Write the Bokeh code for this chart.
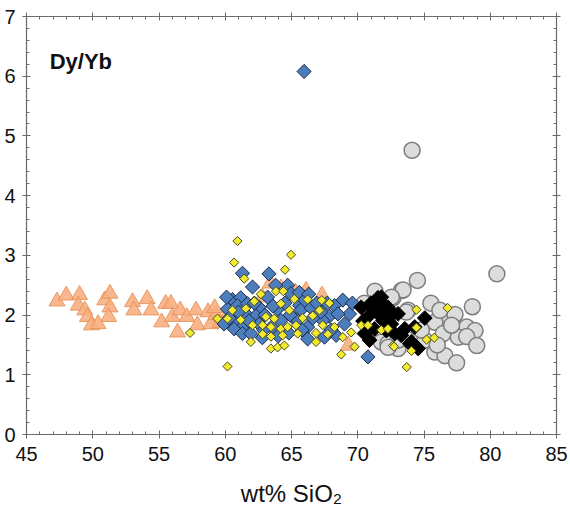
import numpy as np
from bokeh.plotting import figure
from bokeh.models import LinearAxis, SingleIntervalTicker, CustomJSTickFormatter, Label, Range1d
from bokeh.embed import file_html
from bokeh.resources import INLINE

# ---- data ----
tri_x = [47.3, 48.0, 49.0, 48.9, 49.4, 49.6, 49.9, 50.4, 50.9, 51.3, 51.3, 51.2, 53.0, 53.1,
         54.1, 54.4, 55.5, 55.9, 55.2, 56.0, 56.6, 56.4, 57.1, 57.8, 57.9, 58.7, 58.9, 59.3,
         59.6, 59.2, 60.3, 63.4, 64.2, 65.3, 66.1, 67.3, 62.8, 69.3]
tri_y = [2.23, 2.33, 2.34, 2.16, 2.08, 1.97, 1.83, 1.85, 2.25, 2.36, 2.13, 1.97, 2.22, 2.08,
         2.27, 2.08, 2.19, 2.19, 1.88, 1.97, 2.08, 1.71, 1.97, 2.08, 1.83, 2.05, 1.85, 2.00,
         1.87, 2.12, 2.05, 2.53, 2.45, 2.38, 2.41, 2.33, 2.30, 1.49]

grey_x = [74.1, 80.5, 73.29, 74.5, 72.66, 73.8, 71.78, 72.28, 73.04, 73.67, 73.42, 72.54,
          78.65, 75.52, 73.67, 76.7, 77.34, 75.82, 78.22, 78.85, 76.45, 77.59, 78.22, 78.98,
          75.82, 76.58, 77.46, 73.04, 72.29, 75.06, 77.08, 76.2, 70.5, 71.3, 74.8, 76.0]
grey_y = [4.76, 2.69, 2.41, 2.58, 2.29, 2.08, 1.55, 1.52, 1.44, 1.60, 2.42, 2.30,
          2.14, 2.20, 2.05, 1.95, 2.01, 1.88, 1.80, 1.74, 1.69, 1.63, 1.64, 1.49,
          1.38, 1.32, 1.20, 1.58, 1.46, 1.58, 1.83, 2.08, 2.20, 2.40, 1.75, 1.50]

blue_x = [65.95, 61.3, 63.3, 62.06, 64.71, 64.96, 60.54, 61.17, 60.17, 60.92, 61.68, 62.56,
          61.55, 62.31, 59.91, 60.8, 60.67, 61.43, 62.56, 61.3, 61.93, 63.95, 65.6, 64.2,
          65.21, 65.59, 68.87, 68.24, 69.38, 65.72, 66.48, 67.86, 67.36, 66.22, 68.37, 66.22,
          67.49, 70.77, 65.47, 68.5, 63.0, 63.5, 64.5, 66.9, 62.8, 64.8, 63.2, 66.0, 67.2, 69.0,
          60.3, 61.0, 61.8, 62.2, 62.9, 63.6, 64.0, 64.9, 65.8, 66.6, 67.7, 68.0, 66.3, 63.8,
          60.1, 69.6]
blue_y = [6.08, 2.70, 2.69, 2.47, 2.50, 2.36, 2.26, 2.29, 2.10, 2.16, 2.19, 2.13,
          2.02, 1.99, 1.85, 1.91, 1.77, 1.83, 1.85, 1.69, 1.69, 2.10, 2.16, 1.91,
          1.94, 2.38, 2.25, 2.16, 2.02, 2.09, 2.12, 1.98, 1.91, 1.80, 1.66, 1.60,
          1.63, 1.30, 1.91, 2.02, 2.00, 1.80, 2.20, 2.20, 1.62, 1.70, 2.30, 2.25, 2.05, 1.85,
          1.95, 2.05, 1.90, 2.20, 1.75, 2.15, 1.65, 2.00, 1.75, 1.95, 2.20, 1.75, 2.35, 2.50,
          2.30, 2.20]

black_x = [70.26, 71.53, 71.15, 72.28, 73.04, 70.77, 71.9, 72.53, 71.27, 70.51, 70.89, 73.29,
           74.05, 71.78, 72.03, 72.66, 75.06, 73.55, 72.79, 74.3, 73.93, 74.56, 72.16, 71.0,
           71.4, 72.0, 70.4]
black_y = [2.13, 2.29, 2.11, 2.13, 2.02, 1.97, 1.91, 1.85, 1.77, 1.69, 1.58, 1.66,
           1.55, 2.30, 2.16, 2.02, 1.95, 1.77, 1.69, 1.80, 1.52, 1.44, 1.74, 2.20,
           2.05, 1.95, 1.90]

yel_x = [60.92, 60.67, 64.96, 64.51, 61.43, 62.69, 63.83, 64.38, 62.19, 65.21, 64.2, 60.54,
         61.55, 59.41, 60.17, 61.17, 63.07, 63.7, 64.84, 62.06, 62.82, 63.45, 64.2, 64.71,
         65.34, 62.82, 63.45, 64.33, 61.93, 63.45, 63.95, 64.46, 57.34, 60.17, 66.22, 67.28,
         67.86, 65.84, 66.6, 67.11, 65.47, 66.85, 67.36, 68.24, 68.87, 67.74, 66.85, 69.5,
         69.76, 68.75, 70.26, 70.77, 71.78, 72.28, 72.66, 73.7, 74.43, 76.78, 74.43, 75.19,
         75.77, 72.74, 74.05]
yel_y = [3.24, 2.88, 3.01, 2.76, 2.61, 2.35, 2.40, 2.40, 2.23, 2.27, 2.19, 2.08,
         2.11, 1.94, 1.94, 1.92, 1.97, 1.94, 2.08, 1.83, 1.83, 1.80, 1.77, 1.80,
         1.83, 1.68, 1.64, 1.66, 1.55, 1.44, 1.46, 1.49, 1.70, 1.14, 2.26, 2.25,
         2.20, 1.95, 1.99, 2.08, 1.69, 1.70, 1.83, 1.80, 1.63, 1.68, 1.55, 1.71,
         1.47, 1.34, 1.83, 1.83, 1.75, 1.77, 1.49, 1.13, 2.09, 2.12, 1.79, 1.59,
         1.62, 1.47, 1.40]

x_ticks_interval = 5
y_ticks_interval = 1

FONT = "Liberation Sans"
AX = "#6b6b6b"

p = figure(frame_width=530, frame_height=418, output_backend="svg", toolbar_location=None,
           x_range=Range1d(45, 85), y_range=Range1d(0, 7),
           min_border_left=26, min_border_right=14, min_border_top=16, min_border_bottom=90,
           background_fill_color="white", border_fill_color="white")
p.outline_line_color = None
p.xgrid.visible = False
p.ygrid.visible = False

bottom = p.below[0]
left = p.left[0]
bottom.ticker = SingleIntervalTicker(interval=x_ticks_interval, num_minor_ticks=5)
left.ticker = SingleIntervalTicker(interval=y_ticks_interval, num_minor_ticks=5)

top = LinearAxis(ticker=SingleIntervalTicker(interval=x_ticks_interval, num_minor_ticks=5),
                 formatter=CustomJSTickFormatter(code="return ''"))
right = LinearAxis(ticker=SingleIntervalTicker(interval=y_ticks_interval, num_minor_ticks=5),
                   formatter=CustomJSTickFormatter(code="return ''"))
p.add_layout(top, "above")
p.add_layout(right, "right")

for ax in [bottom, left, top, right]:
    ax.axis_line_color = AX
    ax.axis_line_width = 1.2
    ax.major_tick_line_color = AX
    ax.minor_tick_line_color = AX
    ax.major_tick_in = 4
    ax.major_tick_out = 4
    ax.minor_tick_in = 3
    ax.minor_tick_out = 0
    ax.major_label_text_font = FONT
    ax.major_label_text_font_size = "20px"
    ax.major_label_text_color = "#111111"
for ax in [top, right]:
    ax.major_label_standoff = 0

bottom.major_label_standoff = 8
left.major_label_standoff = 7
bottom.axis_label = "wt% SiO₂"
bottom.axis_label_text_font = FONT
bottom.axis_label_text_font_size = "24px"
bottom.axis_label_text_font_style = "normal"
bottom.axis_label_text_color = "#111111"
bottom.axis_label_standoff = 16

# markers
p.scatter(tri_x, tri_y, marker="triangle", size=16, fill_color="#F7AF7F",
          line_color="#E8925A", line_width=1, fill_alpha=0.9, line_alpha=0.9)
p.scatter(grey_x, grey_y, marker="circle", size=16, fill_color="#DCDCDC",
          line_color="#7D7D7D", line_width=1.5)
p.scatter(blue_x, blue_y, marker="square", size=10, angle=np.pi / 4, fill_color="#4C7DBD",
          line_color="#1C2C4A", line_width=1)
p.scatter(black_x, black_y, marker="square", size=10.5, angle=np.pi / 4, fill_color="#000000",
          line_color="#000000", line_width=1)
p.scatter(yel_x, yel_y, marker="square", size=6.5, angle=np.pi / 4, fill_color="#F2EA2E",
          line_color="#4A4A1E", line_width=1)

p.add_layout(Label(x=46.75, y=6.25, text="Dy/Yb", text_font=FONT, text_font_size="22px",
                   text_font_style="bold", text_color="#111111", text_baseline="middle"))

open("out.html", "w").write(file_html(p, INLINE))
